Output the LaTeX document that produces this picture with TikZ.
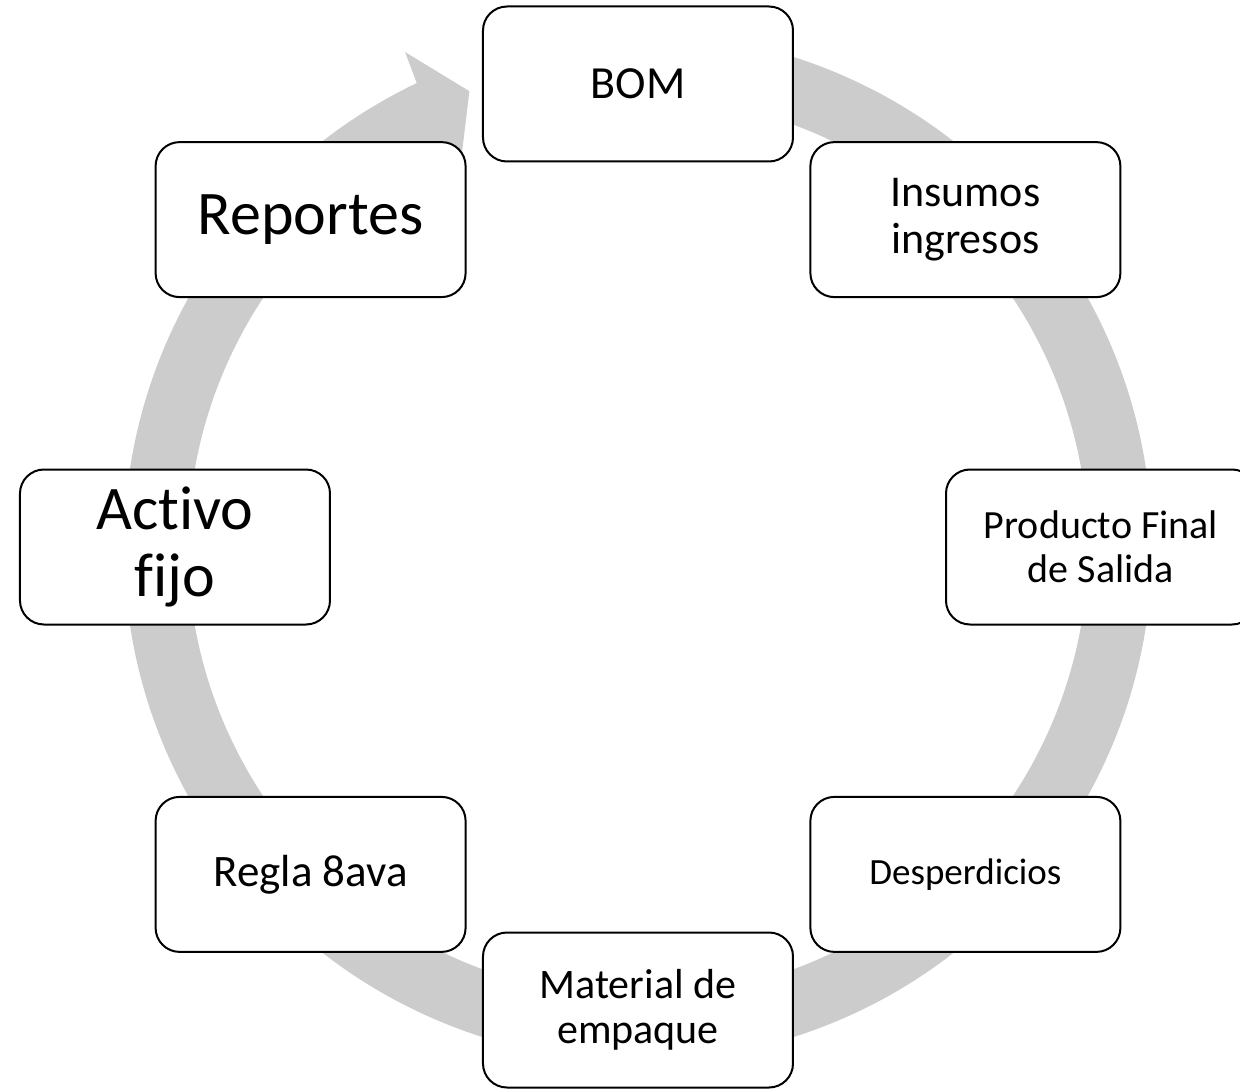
\documentclass[tikz,border=0pt]{standalone}
\usepackage{fontspec}
\setmainfont{Carlito}[Ligatures={NoCommon,NoContextual,NoRequired}]
\usepackage{xcolor}
\definecolor{ringgray}{RGB}{204,204,204}
\usetikzlibrary{calc}
\tikzset{
  etapa/.style={rectangle, draw=black, line width=2pt, fill=white, text centered, align=center, rounded corners=24pt, minimum width=310, minimum height=155, inner sep=3pt},
  ring/.style={fill=ringgray, draw=none},
}

\begin{document}
\begin{tikzpicture}[x=1pt,y=1pt]
    \clip (-638,-541) rectangle (602,547);

    % circular arrow behind the boxes
    \path[ring] (95:514) arc[start angle=95, end angle=-244.5, radius=514]
      -- (-244.8:547) -- (-249.7:486) -- (-244.8:418) -- (-244.5:450)
      arc[start angle=-244.5, end angle=95, radius=450] -- cycle;

    \node[etapa,font=\fontsize{46}{50}\selectfont] (bom) at (90:463) {BOM};
    \node[etapa,font=\fontsize{44}{47}\selectfont] (ins) at (45:463) {Insumos\\ingresos};
    \node[etapa,font=\fontsize{40}{44}\selectfont] (prod) at (0:463) {Producto Final\\de Salida};
    \node[etapa,font=\fontsize{37}{40}\selectfont] (desp) at (-45:463) {Desperdicios};
    \node[etapa,font=\fontsize{42}{45}\selectfont] (emp) at (-90:463) {Material de\\empaque};
    \node[etapa,font=\fontsize{45}{49}\selectfont] (regla) at (-135:463) {Regla 8ava};
    \node[etapa,font=\fontsize{62}{67}\selectfont] (act) at (180:463) {Activo\\fijo};
    \node[etapa,font=\fontsize{62}{67}\selectfont] (rep) at (135:463) {Reportes};
\end{tikzpicture}
\end{document}
